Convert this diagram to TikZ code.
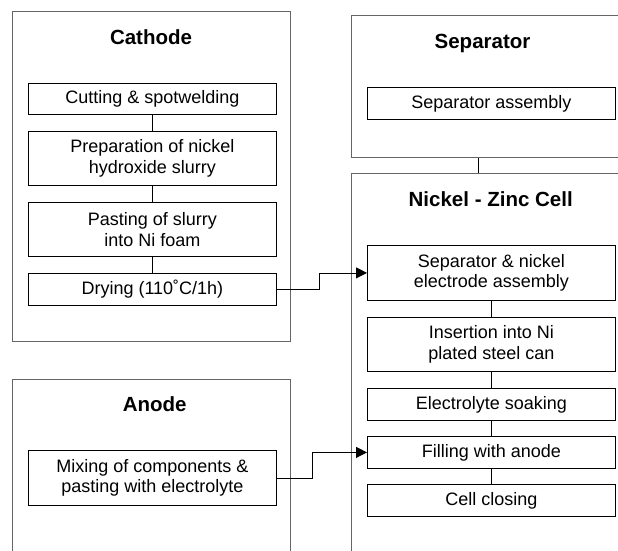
\documentclass[tikz,border=0pt]{standalone}
\usepackage{fontspec}
\setmainfont{Liberation Sans}
\usetikzlibrary{arrows.meta}

\begin{document}
\begin{tikzpicture}[x=1pt,y=-1pt,
  group/.style={draw=black!60, line width=1.1pt, inner sep=0pt, anchor=north west},
  heading/.style={font=\fontsize{20.5}{24}\selectfont\bfseries, anchor=base},
  stage/.style={draw, line width=0.8pt, inner sep=0pt, anchor=north west,
    minimum width=248, align=center, font=\fontsize{18}{20.5}\selectfont}]
  \useasboundingbox (0,0) rectangle (618,550);
  \clip (0,0) rectangle (618,550);
  % outer groups
  \node[group, minimum width=278, minimum height=330] (cathode) at (12,11) {};
  \node[group, minimum width=290, minimum height=142] (separator) at (351,15) {};
  \node[group, minimum width=290, minimum height=430] (cell) at (351,173) {};
  \node[group, minimum width=278, minimum height=230] (anode) at (12,379) {};
  \node[heading] (cathodettl) at (151,44.3) {Cathode};
  \node[heading] (separatorttl) at (482.5,48) {Separator};
  \node[heading] (cellttl) at (490.7,206.7) {Nickel - Zinc Cell};
  \node[heading] (anodettl) at (154.7,411) {Anode};
  % cathode steps
  \node[stage, minimum height=31] (cut) at (28,83) {Cutting \& spotwelding};
  \node[stage, minimum height=54] (prep) at (28,131) {Preparation of nickel\\hydroxide slurry};
  \node[stage, minimum height=54] (paste) at (28,202) {Pasting of slurry\\into Ni foam};
  \node[stage, minimum height=32] (dry) at (28,273) {Drying (110˚C/1h)};
  % separator
  \node[stage, minimum height=32] (sepasm) at (367,87) {Separator assembly};
  % cell steps
  \node[stage, minimum height=55] (sepni) at (367,245) {Separator \& nickel\\electrode assembly};
  \node[stage, minimum height=54] (insert) at (367,317) {Insertion into Ni\\plated steel can};
  \node[stage, minimum height=32] (soak) at (367,388) {Electrolyte soaking};
  \node[stage, minimum height=32] (fill) at (367,436) {Filling with anode};
  \node[stage, minimum height=32] (close) at (367,484) {Cell closing};
  % anode
  \node[stage, minimum height=55] (mix) at (28,450) {Mixing of components \&\\pasting with electrolyte};
  % links
  \draw[line width=0.8pt] (cut) -- (prep) -- (paste) -- (dry);
  \draw[line width=0.8pt] (sepni) -- (insert) -- (soak) -- (fill) -- (close);
  \coordinate (link) at (478,165);
  \draw[line width=0.8pt] (link |- separator.south) -- (link |- cell.north);
  \draw[line width=0.8pt, -{Triangle[length=11pt,width=11pt]}] (dry.east) -- ++(43,0) |- (sepni.west);
  \draw[line width=0.8pt, -{Triangle[length=11pt,width=11pt]}] (mix.east) -- ++(36,0) |- (fill.west);
\end{tikzpicture}
\end{document}
